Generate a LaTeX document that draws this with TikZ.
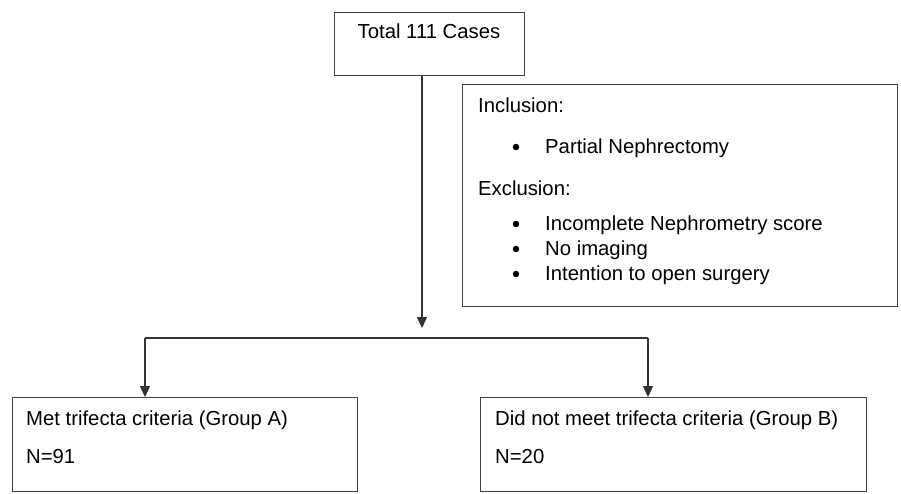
\documentclass[tikz,border=0pt]{standalone}
\usepackage{fontspec}
\setmainfont{Liberation Sans}
\usetikzlibrary{arrows.meta}
\begin{document}
\begin{tikzpicture}[x=1pt,y=-1pt,
  box/.style={draw=black!75,line width=1.3pt,inner sep=0pt,anchor=north west},
  txt/.style={anchor=base west,inner sep=0pt,font=\fontsize{20.3}{24}\selectfont,text=black},
  ctxt/.style={anchor=base,inner sep=0pt,font=\fontsize{20.3}{24}\selectfont,text=black},
  bul/.style={circle,fill=black,inner sep=0pt,minimum size=6.5pt},
  conn/.style={draw=black!80,line width=1.4pt},
  arr/.style={conn,-{Triangle[width=10pt,length=11pt]}}]
\useasboundingbox (0,0) rectangle (901,493);
% boxes
\node[box,minimum width=190pt,minimum height=63pt] (top) at (334,12) {};
\node[box,minimum width=435pt,minimum height=222pt] (incl) at (462,84) {};
\node[box,minimum width=345pt,minimum height=94pt] (ga) at (12,397) {};
\node[box,minimum width=386pt,minimum height=94pt] (gb) at (480,397) {};
% texts
\node[ctxt] (ttop) at (429,38) {Total 111 Cases};
\node[txt] (tinc) at (478,112) {Inclusion:};
\node[bul] (b1) at (516,147) {};
\node[txt] (tpn) at (545,153) {Partial Nephrectomy};
\node[txt] (texc) at (478,195) {Exclusion:};
\node[bul] (b2) at (516,224) {};
\node[txt] (tinco) at (545,230) {Incomplete Nephrometry score};
\node[bul] (b3) at (516,249) {};
\node[txt] (tnoi) at (545,255) {No imaging};
\node[bul] (b4) at (516,274) {};
\node[txt] (tint) at (545,280) {Intention to open surgery};
\node[txt] (tga) at (26,425) {Met trifecta criteria (Group A)};
\node[txt] (nga) at (26,463) {N=91};
\node[txt] (tgb) at (495,425) {Did not meet trifecta criteria (Group B)};
\node[txt] (ngb) at (495,463) {N=20};
% connectors
\coordinate (mid) at (422,328);
\coordinate (jl) at (145,338);
\coordinate (jr) at (648,338);
\draw[arr] (top.south -| mid) -- (mid);
\draw[conn] (jl) -- (jr);
\draw[arr] (jl) -- (jl |- ga.north);
\draw[arr] (jr) -- (jr |- gb.north);
\end{tikzpicture}
\end{document}
